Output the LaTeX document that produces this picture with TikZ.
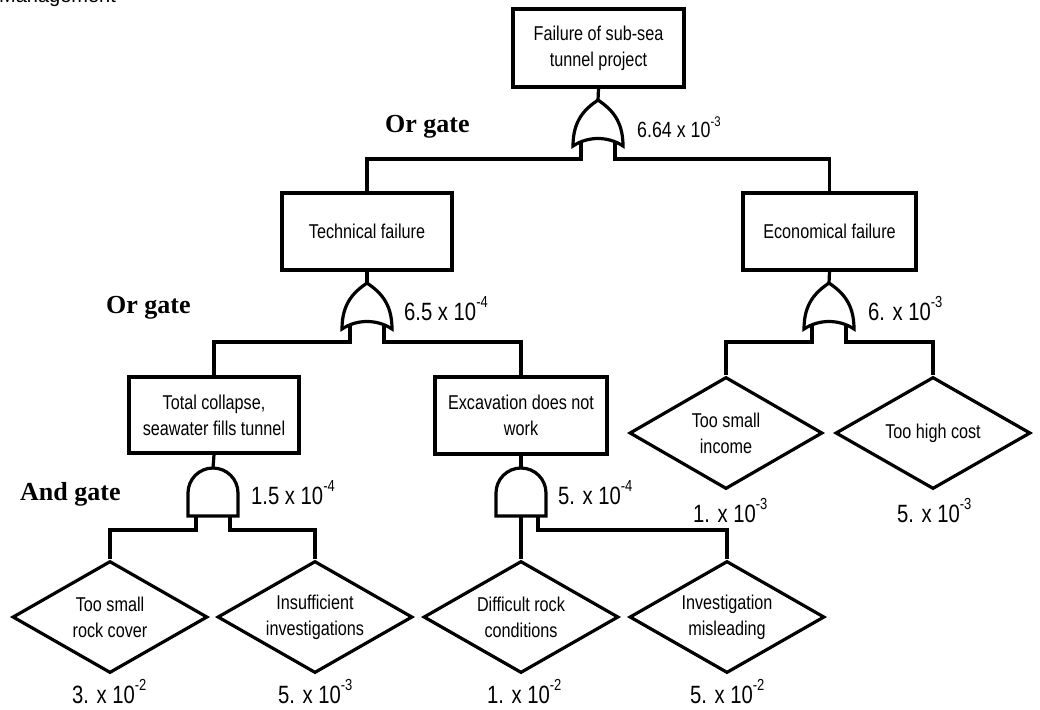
\documentclass[tikz,border=0pt]{standalone}
\usepackage{fontspec}
\setmainfont{Liberation Sans}
\newfontfamily\narrow{Liberation Sans}[FakeStretch=0.81]
\newfontfamily\tms{Liberation Serif}
\usetikzlibrary{shapes.geometric}
\newcommand\expA[1]{\raisebox{13pt}{\fontsize{16}{16}\selectfont #1}}
\newcommand\expB[1]{\raisebox{11pt}{\fontsize{14}{14}\selectfont #1}}
\tikzset{
  wire/.style={line width=3.2pt},
  orgate/.pic={
    \draw[wire] (0,0) .. controls (-13,9) and (-25,20) .. (-25,46)
      .. controls (-10,36) and (10,36) .. (25,46)
      .. controls (25,20) and (13,9) .. (0,0) -- cycle;
    \coordinate (-in) at (0,0);
    \coordinate (-lt) at (-17,41);
    \coordinate (-l) at (-17,59);
    \coordinate (-rt) at (17,41);
    \coordinate (-r) at (17,59);
  },
  andgate/.pic={
    \draw[wire] (-25,48) -- (-25,25) .. controls (-25,11.2) and (-13.8,0) .. (0,0)
      .. controls (13.8,0) and (25,11.2) .. (25,25) -- (25,48) -- cycle;
    \coordinate (-in) at (0,0);
    \coordinate (-lt) at (-17,48);
    \coordinate (-l) at (-17,62);
    \coordinate (-rt) at (17,48);
    \coordinate (-r) at (17,62);
    \coordinate (-c) at (0,48);
  }
}
\begin{document}
\begin{tikzpicture}[x=1pt,y=-1pt,
  evbox/.style={draw, line width=3.2pt, rectangle, inner sep=0pt, align=center,
    font=\narrow\fontsize{20}{26}\selectfont},
  evdia/.style={draw, line width=3.2pt, diamond, aspect=1.74, inner sep=0pt, align=center,
    minimum width=195pt, minimum height=112pt, font=\narrow\fontsize{20}{26}\selectfont},
  plab/.style={inner sep=0pt, anchor=base west, font=\narrow\fontsize{25}{25}\selectfont},
  glab/.style={inner sep=0pt, anchor=base west, font=\tms\bfseries\fontsize{26}{26}\selectfont},
  hdr/.style={inner sep=0pt, anchor=base west, font=\fontsize{20}{20}\selectfont}
  ]
\useasboundingbox (0,0) rectangle (1040,709);

\node[hdr] (header) at (-1,3) {Management};

% boxes
\node[evbox, minimum width=171pt, minimum height=78pt] (top) at (598.5,48) {Failure of sub-sea\\tunnel project};
\node[evbox, minimum width=170pt, minimum height=77pt] (tech) at (367,231.5) {Technical failure};
\node[evbox, minimum width=173pt, minimum height=77pt] (econ) at (829.5,231.5) {Economical failure};
\node[evbox, minimum width=170pt, minimum height=76pt] (coll) at (214,415) {Total collapse,\\seawater fills tunnel};
\node[evbox, minimum width=172pt, minimum height=77pt] (exc) at (521,415.5) {Excavation does not\\work};

% diamonds
\node[evdia] (d1) at (110,617) {Too small\\rock cover};
\node[evdia] (d2) at (315,617) {Insufficient\\investigations};
\node[evdia] (d3) at (521,617) {Difficult rock\\conditions};
\node[evdia] (d4) at (727,617) {Investigation\\misleading};
\node[evdia, minimum width=193pt] (d5) at (726,433) {Too small\\income};
\node[evdia] (d6) at (933,433) {Too high cost};

% gates
\pic (g1) at (598,100) {orgate};
\pic (g2) at (367,283) {orgate};
\pic (g3) at (829,283) {orgate};
\pic (a1) at (213,468) {andgate};
\pic (a2) at (521,468) {andgate};

% connectors
\draw[wire] (top.south) -- (g1-in);
\draw[wire] (g1-lt) -- (g1-l) -| (tech.north);
\draw[wire] (g1-rt) -- (g1-r) -| (econ.north);
\draw[wire] (tech.south) -- (g2-in);
\draw[wire] (econ.south) -- (g3-in);
\draw[wire] (g2-lt) -- (g2-l) -| (coll.north);
\draw[wire] (g2-rt) -- (g2-r) -| (exc.north);
\draw[wire] (g3-lt) -- (g3-l) -| (d5.north);
\draw[wire] (g3-rt) -- (g3-r) -| (d6.north);
\draw[wire] (coll.south) -- (a1-in);
\draw[wire] (exc.south) -- (a2-in);
\draw[wire] (a1-lt) -- (a1-l) -| (d1.north);
\draw[wire] (a1-rt) -- (a1-r) -| (d2.north);
\draw[wire] (a2-c) -- (d3.north);
\draw[wire] (a2-rt) -- (a2-r) -| (d4.north);

% gate labels
\node[glab] (lg1) at (385,132) {Or gate};
\node[glab] (lg2) at (106,313) {Or gate};
\node[glab] (lg3) at (20,500) {And gate};

% probabilities
\node[plab, font=\narrow\fontsize{22}{22}\selectfont] (p1) at (637,137) {6.64 x 10\expB{-3}};
\node[plab] (p2) at (404,320) {6.5 x 10\expA{-4}};
\node[plab] (p3) at (868,320) {6. x 10\expA{-3}};
\node[plab] (p4) at (251,504) {1.5 x 10\expA{-4}};
\node[plab] (p5) at (558,504) {5. x 10\expA{-4}};
\node[plab] (p6) at (693,522) {1. x 10\expA{-3}};
\node[plab] (p7) at (897,522) {5. x 10\expA{-3}};
\node[plab] (p8) at (72,703) {3. x 10\expA{-2}};
\node[plab] (p9) at (278,703) {5. x 10\expA{-3}};
\node[plab] (p10) at (487,703) {1. x 10\expA{-2}};
\node[plab] (p11) at (690,703) {5. x 10\expA{-2}};
\end{tikzpicture}
\end{document}
